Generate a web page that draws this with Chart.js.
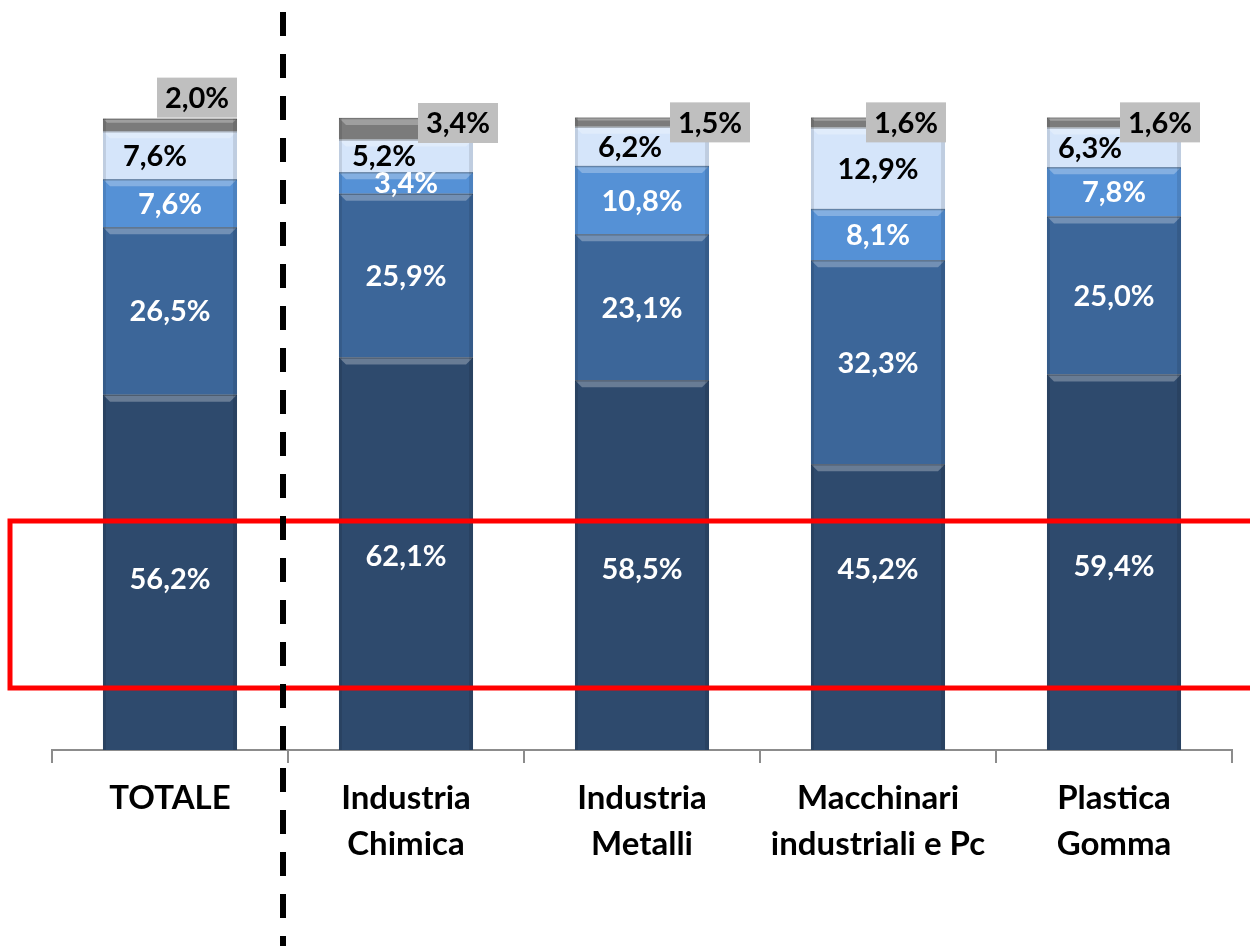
<!DOCTYPE html>
<html>
<head>
<meta charset="utf-8">
<script src="https://cdn.jsdelivr.net/npm/chart.js@4.4.1/dist/chart.umd.min.js"></script>
<style>
  html, body { margin: 0; padding: 0; background: #fff; }
  canvas { display: block; }
</style>
</head>
<body>
<canvas id="stackChart" width="1250" height="946"></canvas>
<script>
// categories
var categories = [
    ["TOTALE"],
    ["Industria", "Chimica"],
    ["Industria", "Metalli"],
    ["Macchinari", "industriali e Pc"],
    ["Plastica", "Gomma"]
];

// series values (%), bottom to top
var serie1 = [56.2, 62.1, 58.5, 45.2, 59.4];
var serie2 = [26.5, 25.9, 23.1, 32.3, 25.0];
var serie3 = [7.6, 3.4, 10.8, 8.1, 7.8];
var serie4 = [7.6, 5.2, 6.2, 12.9, 6.3];
var serie5 = [2.0, 3.4, 1.5, 1.6, 1.6];

// label placement tweaks (pixels), per bar
var greyBoxDx = [27, 52, 68, 28, 46];
var greyBoxDy = [-21, 5, 5, 5, 5];
var lightLabelDx = [-15, -22, -12, 0, -24];
var darkLabelDy = [6, 2, 4, -39, 3];

var colors = ["#2e4a6d", "#3c6699", "#5591d6", "#d5e5fa", "#7b7b7b"];
var labelColors = ["#ffffff", "#ffffff", "#ffffff", "#000000", "#000000"];

function fmt(v) {
    return v.toFixed(1).replace(".", ",") + "%";
}

var bevelPlugin = {
    id: "bevel",
    afterDatasetsDraw: function (chart) {
        var ctx = chart.ctx;
        ctx.save();
        chart.data.datasets.forEach(function (ds, di) {
            chart.getDatasetMeta(di).data.forEach(function (bar) {
                var left = bar.x - bar.width / 2;
                var right = bar.x + bar.width / 2;
                var top = bar.y;
                var h = bar.base - bar.y;
                var b = Math.min(7, h / 3);
                // top highlight
                ctx.fillStyle = "rgba(255,255,255,0.28)";
                ctx.beginPath();
                ctx.moveTo(left, top);
                ctx.lineTo(right, top);
                ctx.lineTo(right - b, top + b);
                ctx.lineTo(left + b, top + b);
                ctx.closePath();
                ctx.fill();
                // dark seam
                ctx.strokeStyle = "rgba(0,0,0,0.25)";
                ctx.lineWidth = 1.5;
                ctx.beginPath();
                ctx.moveTo(left, top + 0.5);
                ctx.lineTo(right, top + 0.5);
                ctx.stroke();
                // side shade
                ctx.fillStyle = "rgba(0,0,0,0.10)";
                ctx.fillRect(right - 4, top, 4, h);
                ctx.fillRect(left, top, 3, h);
            });
        });
        ctx.restore();
    }
};

var labelPlugin = {
    id: "segLabels",
    afterDatasetsDraw: function (chart) {
        var ctx = chart.ctx;
        ctx.save();
        ctx.font = "bold 29px Lato";
        ctx.textAlign = "center";
        ctx.textBaseline = "middle";
        chart.data.datasets.forEach(function (ds, di) {
            chart.getDatasetMeta(di).data.forEach(function (bar, i) {
                var txt = fmt(ds.data[i]);
                var x = bar.x;
                var y = (bar.y + bar.base) / 2;
                if (di === 4) {
                    var bx = bar.x + greyBoxDx[i];
                    var by = bar.y + greyBoxDy[i];
                    ctx.fillStyle = "#bfbfbf";
                    ctx.fillRect(bx - 40, by - 20, 80, 40);
                    ctx.fillStyle = "#000";
                    ctx.fillText(txt, bx, by + 1);
                    return;
                }
                if (di === 3) x += lightLabelDx[i];
                if (di === 0) y += darkLabelDy[i];
                ctx.fillStyle = labelColors[di];
                ctx.fillText(txt, x, y + 1);
            });
        });
        ctx.restore();
    }
};

var overlayPlugin = {
    id: "overlay",
    afterDraw: function (chart) {
        var ctx = chart.ctx;
        ctx.save();
        // red highlight box
        ctx.strokeStyle = "#ff0000";
        ctx.lineWidth = 5;
        ctx.strokeRect(10, 521, 1260, 167);
        // dashed separator
        ctx.strokeStyle = "#000";
        ctx.lineWidth = 6;
        ctx.setLineDash([24, 18]);
        ctx.beginPath();
        ctx.moveTo(283, 12);
        ctx.lineTo(283, 946);
        ctx.stroke();
        ctx.restore();
    }
};

var stackCanvas = document.getElementById("stackChart");

var stackData = {
    labels: categories,
    datasets: [serie1, serie2, serie3, serie4, serie5].map(function (d, k) {
        return {
            data: d,
            backgroundColor: colors[k],
            borderWidth: 0,
            barPercentage: 0.568,
            categoryPercentage: 1.0
        };
    })
};

var chartOptions = {
    responsive: false,
    devicePixelRatio: 1,
    animation: false,
    layout: {
        padding: { left: 52, right: 18, top: 118, bottom: 0 }
    },
    plugins: {
        legend: { display: false },
        tooltip: { enabled: false }
    },
    scales: {
        x: {
            stacked: true,
            grid: {
                display: true,
                drawOnChartArea: false,
                drawTicks: true,
                tickLength: 13,
                color: "#8c8c8c",
                lineWidth: 2
            },
            border: { display: true, color: "#8c8c8c", width: 2 },
            ticks: {
                color: "#000",
                font: { family: "Lato", size: 33, weight: "bold", lineHeight: 1.4 },
                padding: 12,
                maxRotation: 0,
                autoSkip: false
            },
            afterFit: function (s) { s.height = 196; }
        },
        y: {
            stacked: true,
            display: false,
            min: 0,
            max: 100
        }
    }
};

var stackChart = new Chart(stackCanvas, {
    type: "bar",
    data: stackData,
    options: chartOptions,
    plugins: [bevelPlugin, labelPlugin, overlayPlugin]
});
</script>
</body>
</html>
